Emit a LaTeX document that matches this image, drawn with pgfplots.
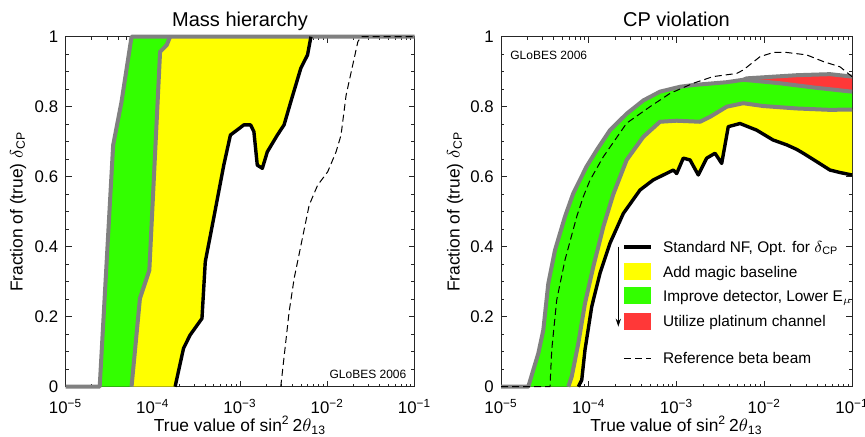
\documentclass[border=0pt]{standalone}
\usepackage{fontspec}
\setmainfont{Liberation Sans}
\usepackage{pgfplots}
\pgfplotsset{compat=1.18}
\usetikzlibrary{arrows.meta}

\definecolor{nfgreen}{RGB}{51,255,0}
\definecolor{nfyellow}{RGB}{255,255,0}
\definecolor{nfred}{RGB}{255,56,56}
\definecolor{nfgray}{RGB}{128,128,128}

\tikzset{
  band/.style={draw=none, fill=#1},
  edge/.style={nfgray, line width=2pt, line join=round},
  nf/.style={black, line width=1.7pt, line join=round},
  bb/.style={black, line width=0.5pt, dash pattern=on 3.5pt off 2pt},
}

% x is log10(sin^2 2theta13)
\pgfplotsset{
  globes/.style={
    scale only axis, height=175pt,
    xmin=-5, xmax=-1, ymin=0, ymax=1,
    clip=false,
    axis line style={black!85, line width=0.5pt},
    tick style={black!85, line width=0.4pt},
    tick align=inside,
    major tick length=3pt, minor tick length=1.6pt,
    xtick={-5,-4,-3,-2,-1},
    xticklabels={10\textsuperscript{−5},10\textsuperscript{−4},10\textsuperscript{−3},10\textsuperscript{−2},10\textsuperscript{−1}},
    minor xtick={-4.699,-4.523,-4.398,-4.301,-4.222,-4.155,-4.097,-4.046,
                 -3.699,-3.523,-3.398,-3.301,-3.222,-3.155,-3.097,-3.046,
                 -2.699,-2.523,-2.398,-2.301,-2.222,-2.155,-2.097,-2.046,
                 -1.699,-1.523,-1.398,-1.301,-1.222,-1.155,-1.097,-1.046},
    ytick={0,0.2,0.4,0.6,0.8,1},
    yticklabels={0,0.2,0.4,0.6,0.8,1},
    minor y tick num=3,
    ticklabel style={font=\fontsize{8.4}{10}\selectfont, inner sep=0pt},
    xticklabel style={anchor=base, yshift=-13.2pt},
    yticklabel style={anchor=east, xshift=-3.5pt},
    every axis title shift=0pt,
    title style={at={(0.5,1)}, anchor=base, yshift=5.2pt, font=\fontsize{10}{12}\selectfont},
    label style={font=\fontsize{8.7}{10}\selectfont},
    xlabel={True value of sin\textsuperscript{2}\,2$\theta$\textsubscript{13}},
    ylabel={Fraction of (true) $\delta$\textsubscript{CP}},
    xlabel style={at={(axis description cs:0.5,-0.109)}, anchor=center},
  },
}

\begin{document}
\begin{tikzpicture}
\useasboundingbox (0pt,0pt) rectangle (432.5pt,-218pt);

% ---------------- Mass hierarchy ----------------
\begin{axis}[globes, at={(32.75pt,-193.35pt)}, anchor=south west, width=174.5pt,
  title={Mass hierarchy},
  ylabel style={at={(axis description cs:-0.136,0.5)}, anchor=center, rotate=0}]
% improve detector
\addplot[band=nfgreen] coordinates {
  (-4.608,0) (-4.454,0.690) (-4.358,0.814) (-4.243,1)
  (-3.801,1) (-3.840,0.976) (-3.916,0.957) (-4.039,0.333) (-4.147,0.252) (-4.243,0)};
% magic baseline
\addplot[band=nfyellow] coordinates {
  (-4.243,0) (-4.147,0.252) (-4.039,0.333) (-3.916,0.957) (-3.840,0.976) (-3.801,1)
  (-2.187,1) (-2.226,0.948) (-2.303,0.910) (-2.418,0.814) (-2.495,0.748) (-2.572,0.719)
  (-2.687,0.671) (-2.744,0.624) (-2.802,0.633) (-2.841,0.729) (-2.879,0.748) (-2.956,0.748)
  (-3.110,0.719) (-3.186,0.633) (-3.302,0.481) (-3.398,0.357) (-3.436,0.195) (-3.571,0.148)
  (-3.647,0.110) (-3.744,0)};
\addplot[edge] coordinates {
  (-5,0) (-4.608,0) (-4.454,0.690) (-4.358,0.814) (-4.243,1) (-1,1)};
\addplot[edge] coordinates {
  (-4.243,0) (-4.147,0.252) (-4.039,0.333) (-3.916,0.957) (-3.840,0.976) (-3.801,1)};
\addplot[nf] coordinates {
  (-3.744,0) (-3.647,0.110) (-3.571,0.148) (-3.436,0.195) (-3.398,0.357) (-3.302,0.481)
  (-3.186,0.633) (-3.110,0.719) (-2.956,0.748) (-2.879,0.748) (-2.841,0.729) (-2.802,0.633)
  (-2.744,0.624) (-2.687,0.671) (-2.572,0.719) (-2.495,0.748) (-2.418,0.814) (-2.303,0.910)
  (-2.226,0.948) (-2.187,1)};
\addplot[bb] coordinates {
  (-2.533,0) (-2.437,0.214) (-2.379,0.310) (-2.207,0.519) (-2.110,0.576) (-1.995,0.614)
  (-1.899,0.671) (-1.842,0.719) (-1.784,0.833) (-1.649,0.986) (-1.611,1) (-1,1)};
\end{axis}

% ---------------- CP violation ----------------
\begin{axis}[globes, at={(250.5pt,-193.35pt)}, anchor=south west, width=175.5pt,
  title={CP violation},
  ylabel style={at={(axis description cs:-0.131,0.5)}, anchor=center, rotate=0}]
% improve detector
\addplot[band=nfgreen] coordinates {
  (-4.689,0) (-4.632,0.048) (-4.575,0.095) (-4.518,0.162) (-4.461,0.295) (-4.385,0.390)
  (-4.271,0.486) (-4.176,0.553) (-4.023,0.630) (-3.909,0.676) (-3.758,0.733) (-3.568,0.780)
  (-3.378,0.818) (-3.188,0.843) (-2.960,0.857) (-2.809,0.862) (-2.428,0.870) (-2.239,0.877)
  (-1.821,0.867) (-1.441,0.855) (-1,0.843)
  (-1,0.792) (-1.251,0.791) (-1.630,0.795) (-2.014,0.802) (-2.239,0.810) (-2.428,0.800)
  (-2.618,0.771) (-2.732,0.757) (-2.998,0.760) (-3.188,0.757) (-3.378,0.714) (-3.568,0.648)
  (-3.720,0.550) (-3.834,0.457) (-3.948,0.343) (-4.043,0.238) (-4.119,0.124) (-4.194,0.029)
  (-4.233,0)};
% platinum channel
\addplot[band=nfred] coordinates {
  (-2.239,0.877) (-2.200,0.881) (-1.630,0.890) (-1.251,0.893) (-1,0.886)
  (-1,0.843) (-1.441,0.855) (-1.821,0.867)};
% magic baseline
\addplot[band=nfyellow] coordinates {
  (-4.233,0) (-4.194,0.029) (-4.119,0.124) (-4.043,0.238) (-3.948,0.343) (-3.834,0.457)
  (-3.720,0.550) (-3.568,0.648) (-3.378,0.714) (-3.188,0.757) (-2.998,0.760) (-2.732,0.757)
  (-2.618,0.771) (-2.428,0.800) (-2.239,0.810) (-2.014,0.802) (-1.630,0.795) (-1.251,0.791)
  (-1,0.792)
  (-1,0.605) (-1.137,0.612) (-1.251,0.619) (-1.402,0.643) (-1.555,0.667) (-1.630,0.678)
  (-1.744,0.691) (-1.900,0.705) (-2.086,0.733) (-2.276,0.752) (-2.410,0.743) (-2.485,0.638)
  (-2.561,0.667) (-2.656,0.653) (-2.752,0.605) (-2.846,0.648) (-2.923,0.653) (-2.998,0.609)
  (-3.036,0.619) (-3.264,0.591) (-3.416,0.562) (-3.606,0.495) (-3.758,0.410) (-3.872,0.324)
  (-3.966,0.229) (-4.043,0.105) (-4.080,0.019) (-4.119,0)};
\addplot[edge] coordinates {
  (-5,0) (-4.689,0) (-4.632,0.048) (-4.575,0.095) (-4.518,0.162) (-4.461,0.295) (-4.385,0.390)
  (-4.271,0.486) (-4.176,0.553) (-4.023,0.630) (-3.909,0.676) (-3.758,0.733) (-3.568,0.780)
  (-3.378,0.818) (-3.188,0.843) (-2.960,0.857) (-2.809,0.862) (-2.428,0.870) (-2.239,0.877)
  (-2.200,0.881) (-1.630,0.890) (-1.251,0.893) (-1,0.886)};
\addplot[edge] coordinates {
  (-2.239,0.877) (-1.821,0.867) (-1.441,0.855) (-1,0.843)};
\addplot[edge] coordinates {
  (-4.233,0) (-4.194,0.029) (-4.119,0.124) (-4.043,0.238) (-3.948,0.343) (-3.834,0.457)
  (-3.720,0.550) (-3.568,0.648) (-3.378,0.714) (-3.188,0.757) (-2.998,0.760) (-2.732,0.757)
  (-2.618,0.771) (-2.428,0.800) (-2.239,0.810) (-2.014,0.802) (-1.630,0.795) (-1.251,0.791)
  (-1,0.792)};
\addplot[nf] coordinates {
  (-4.119,0) (-4.080,0.019) (-4.043,0.105) (-3.966,0.229) (-3.872,0.324) (-3.758,0.410)
  (-3.606,0.495) (-3.416,0.562) (-3.264,0.591) (-3.036,0.619) (-2.998,0.609) (-2.923,0.653)
  (-2.846,0.648) (-2.752,0.605) (-2.656,0.653) (-2.561,0.667) (-2.485,0.638) (-2.410,0.743)
  (-2.276,0.752) (-2.086,0.733) (-1.900,0.705) (-1.744,0.691) (-1.630,0.678) (-1.555,0.667)
  (-1.402,0.643) (-1.251,0.619) (-1.137,0.612) (-1,0.605)};
\addplot[bb] coordinates {
  (-5,0) (-4.442,0) (-4.422,0.105) (-4.365,0.248) (-4.271,0.362) (-4.137,0.486) (-4.062,0.543)
  (-3.986,0.590) (-3.834,0.657) (-3.568,0.753) (-3.302,0.800) (-3.074,0.838) (-2.809,0.867)
  (-2.584,0.886) (-2.314,0.895) (-2.239,0.905) (-2.048,0.943) (-1.897,0.955) (-1.744,0.955)
  (-1.516,0.948) (-1.327,0.929) (-1.137,0.914) (-1,0.886)};
\end{axis}

% GLoBES stamps
\node[anchor=east, inner sep=0pt, font=\fontsize{6}{7}\selectfont] at (203.35pt,-187pt) {GLoBES 2006};
\node[anchor=west, inner sep=0pt, font=\fontsize{6}{7}\selectfont] at (255pt,-27.5pt) {GLoBES 2006};

% legend of the CP panel
\begin{scope}[every node/.style={anchor=base west, inner sep=0pt, font=\fontsize{7.7}{9}\selectfont}]
\draw[black, line width=2pt] (312pt,-123.35pt) -- (325.5pt,-123.35pt);
\fill[nfyellow] (312pt,-131.6pt) rectangle (325.5pt,-140.1pt);
\fill[nfgreen] (312pt,-143.6pt) rectangle (325.5pt,-152.1pt);
\fill[nfred] (312pt,-156.25pt) rectangle (325.5pt,-164.75pt);
\draw[bb] (312pt,-179.15pt) -- (325.5pt,-179.15pt);
\draw[-{Stealth[length=4pt,width=2.6pt]}, line width=0.5pt] (309.15pt,-123.35pt) -- (309.15pt,-163.35pt);
\node at (331.35pt,-126.15pt) {Standard NF, Opt. for $\delta$\textsubscript{CP}};
\node at (331.35pt,-138.65pt) {Add magic baseline};
\node at (331.35pt,-150.65pt) {Improve detector, Lower E\textsubscript{$\mu$}};
\node at (331.35pt,-163.3pt) {Utilize platinum channel};
\node at (331.35pt,-181.95pt) {Reference beta beam};
\end{scope}
\end{tikzpicture}
\end{document}
